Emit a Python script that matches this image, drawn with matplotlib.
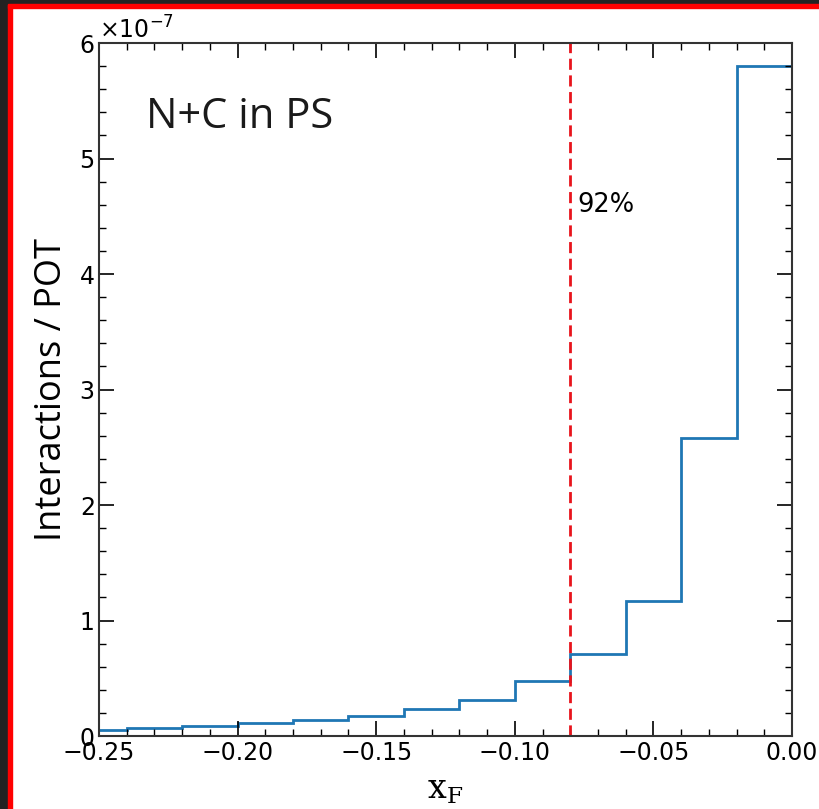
import matplotlib
matplotlib.use("Agg")
import matplotlib.pyplot as plt
import numpy as np
from matplotlib.patches import Rectangle
from matplotlib.ticker import MultipleLocator, ScalarFormatter

# histogram bins in x_F and interactions per POT (units of 1e-7)
bin_edges = [-0.26, -0.24, -0.22, -0.20, -0.18, -0.16, -0.14, -0.12,
             -0.10, -0.08, -0.06, -0.04, -0.02, 0.00]
counts = [0.05, 0.07, 0.085, 0.11, 0.14, 0.176, 0.23, 0.31,
          0.475, 0.71, 1.17, 2.58, 5.80]
cut_x = -0.08
cut_label = "92%"
title_text = "N+C in PS"

counts = np.array(counts) * 1e-7

plt.rcParams["mathtext.fontset"] = "dejavuserif"

fig = plt.figure(figsize=(8.19, 8.09), dpi=100)
ax = fig.add_axes([0.1209, 0.0902, 0.8461, 0.8566])

ax.stairs(counts, bin_edges, color="#1f77b4", linewidth=2.0)
ax.axvline(cut_x, color="#e8141c", linestyle="--", linewidth=2.0, dashes=(4, 2))

ax.set_xlim(-0.25, 0.0)
ax.set_ylim(0, 6e-7)

ax.xaxis.set_major_locator(MultipleLocator(0.05))
ax.xaxis.set_minor_locator(MultipleLocator(0.01))
ax.yaxis.set_major_locator(MultipleLocator(1e-7))
ax.yaxis.set_minor_locator(MultipleLocator(0.2e-7))
yfmt = ScalarFormatter(useMathText=True)
ax.yaxis.set_major_formatter(yfmt)
ax.tick_params(which="both", direction="in", top=True, right=True, labelsize=17)
ax.tick_params(which="major", length=11, width=1.2)
ax.tick_params(which="minor", length=5, width=1.0)
ax.yaxis.get_offset_text().set_fontsize(17)
for s in ax.spines.values():
    s.set_linewidth(1.5)
    s.set_color("#333333")

ax.text(cut_x + 0.0025, 4.6e-7, cut_label, fontsize=18.5, va="center", ha="left")
ax.text(-0.233, 5.36e-7, title_text, fontsize=30, family="Open Sans",
        color="#1a1a1a", va="center", ha="left")

ax.set_ylabel("Interactions / POT", fontsize=26, family="Open Sans", labelpad=6)
ax.set_xlabel(r"$\mathrm{x_F}$", fontsize=24, labelpad=6, math_fontfamily="dejavuserif")

# dark frame with red edge on top and left
fig.patches.append(Rectangle((0, 0), 8 / 819, 1, transform=fig.transFigure,
                             color="#222222", zorder=10))
fig.patches.append(Rectangle((8 / 819, 0), 4 / 819, 1 - 4 / 809, transform=fig.transFigure,
                             color="#ff0000", zorder=10))
fig.patches.append(Rectangle((0, 1 - 4 / 809), 1, 4 / 809, transform=fig.transFigure,
                             color="#222222", zorder=10))
fig.patches.append(Rectangle((8 / 819, 1 - 8 / 809), 1, 4 / 809, transform=fig.transFigure,
                             color="#ff0000", zorder=10))

fig.savefig("out.png", dpi=100)
